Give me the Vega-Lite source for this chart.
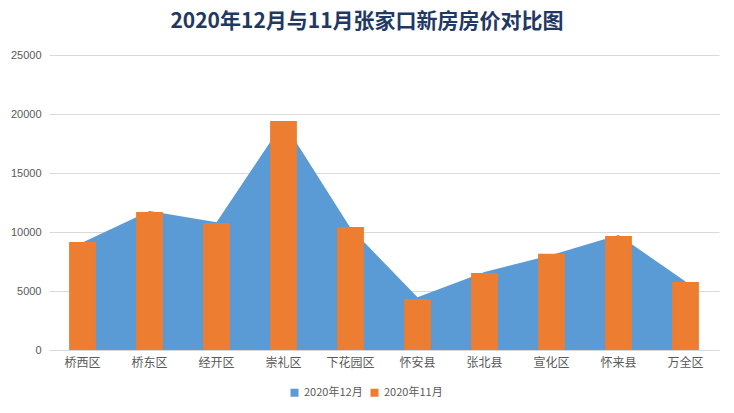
{
  "$schema": "https://vega.github.io/schema/vega-lite/v6.json",
  "width": 670,
  "height": 295,
  "autosize": {"type": "none"},
  "padding": {"left": 49, "top": 55, "right": 15, "bottom": 63},
  "background": "white",
  "title": {
    "text": "2020年12月与11月张家口新房房价对比图",
    "font": "Noto Sans CJK SC",
    "fontSize": 21,
    "fontWeight": "bold",
    "color": "#1F3864",
    "anchor": "middle",
    "dx": -17,
    "offset": 17
  },
  "data": {
    "values": [
      {"区域": "桥西区", "dec": 9100, "nov": 9150},
      {"区域": "桥东区", "dec": 11780, "nov": 11700},
      {"区域": "经开区", "dec": 10820, "nov": 10760},
      {"区域": "崇礼区", "dec": 19300, "nov": 19400},
      {"区域": "下花园区", "dec": 10340, "nov": 10420},
      {"区域": "怀安县", "dec": 4460, "nov": 4320},
      {"区域": "张北县", "dec": 6600, "nov": 6530},
      {"区域": "宣化区", "dec": 8050, "nov": 8160},
      {"区域": "怀来县", "dec": 9750, "nov": 9660},
      {"区域": "万全区", "dec": 5800, "nov": 5760}
    ]
  },
  "encoding": {
    "x": {
      "field": "区域",
      "type": "nominal",
      "sort": null,
      "scale": {"paddingInner": 0.6, "paddingOuter": 0.3},
      "axis": {
        "title": null,
        "labelAngle": 0,
        "labelFont": "Noto Sans CJK SC",
        "labelFontSize": 12,
        "labelColor": "#595959",
        "ticks": false,
        "labelPadding": 7,
        "domainColor": "#D9D9D9",
        "grid": false
      }
    }
  },
  "layer": [
    {
      "mark": {"type": "area", "opacity": 1},
      "encoding": {
        "y": {
          "field": "dec",
          "type": "quantitative",
          "stack": null,
          "scale": {"domain": [0, 25000], "nice": false},
          "axis": {
            "title": null,
            "values": [0, 5000, 10000, 15000, 20000, 25000],
            "labelFont": "Liberation Sans",
            "labelFontSize": 11,
            "labelColor": "#595959",
            "labelPadding": 8,
            "ticks": false,
            "domain": false,
            "gridColor": "#D9D9D9",
            "format": "d"
          }
        },
        "color": {"datum": "2020年12月", "type": "nominal"}
      }
    },
    {
      "mark": {"type": "bar"},
      "encoding": {
        "y": {"field": "nov", "type": "quantitative", "stack": null, "scale": {"domain": [0, 25000], "nice": false}},
        "color": {"datum": "2020年11月", "type": "nominal"}
      }
    }
  ],
  "resolve": {"scale": {"color": "shared"}},
  "config": {
    "view": {"stroke": null},
    "range": {"category": ["#5B9BD5", "#ED7D31"]},
    "legend": {
      "orient": "none",
      "legendX": 240,
      "legendY": 332,
      "direction": "horizontal",
      "title": null,
      "symbolType": "square",
      "symbolSize": 64,
      "symbolStrokeWidth": 0,
      "labelFont": "Noto Sans CJK SC",
      "labelFontSize": 11,
      "labelColor": "#595959",
      "columnPadding": 6,
      "labelOffset": 4
    }
  }
}
